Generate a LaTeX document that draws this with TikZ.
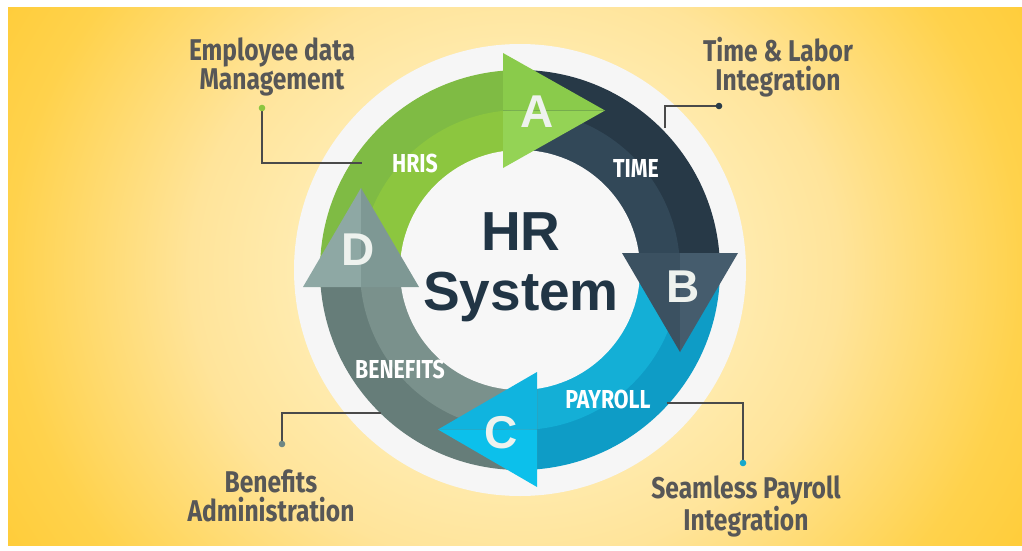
\documentclass[tikz,border=0pt]{standalone}
\usepackage{fontspec}
\setmainfont{Liberation Sans}
\newfontfamily\lblfont[FakeStretch=0.82]{Fira Sans}
\definecolor{bgA}{HTML}{FFF3CC}
\definecolor{bgB}{HTML}{FFEFBA}
\definecolor{bgC}{HTML}{FFE49A}
\definecolor{bgD}{HTML}{FFD24C}
\definecolor{bgE}{HTML}{FFC92E}
\definecolor{diskc}{HTML}{F6F6F6}
\definecolor{innerc}{HTML}{F7F7F7}
\definecolor{grnout}{HTML}{7FBB44}
\definecolor{grnin}{HTML}{8CC63F}
\definecolor{drkout}{HTML}{273947}
\definecolor{drkin}{HTML}{324858}
\definecolor{bluout}{HTML}{0E9CC6}
\definecolor{bluin}{HTML}{14AFD6}
\definecolor{gryout}{HTML}{667D79}
\definecolor{gryin}{HTML}{7A918C}
\definecolor{triAu}{HTML}{8ACB4B}
\definecolor{triAl}{HTML}{94D355}
\definecolor{triBl}{HTML}{3B5161}
\definecolor{triBr}{HTML}{455C6D}
\definecolor{triCu}{HTML}{10B4DF}
\definecolor{triCl}{HTML}{0CC0EB}
\definecolor{triDl}{HTML}{8EA8A4}
\definecolor{triDr}{HTML}{7E9894}
\definecolor{hrtext}{HTML}{213545}
\definecolor{lbltext}{HTML}{575757}
\definecolor{connc}{HTML}{4A4A4A}
\definecolor{dotg}{HTML}{8CC63F}
\definecolor{dotd}{HTML}{2A3C49}
\definecolor{dotgr}{HTML}{6E8784}
\definecolor{dotb}{HTML}{16A8CC}
\definecolor{letc}{HTML}{EEF2EE}
\pgfdeclareradialshading{bgshade}{\pgfpoint{0bp}{0bp}}{color(0bp)=(bgA); color(8bp)=(bgB); color(16bp)=(bgC); color(25bp)=(bgD); color(32bp)=(bgE); color(50bp)=(bgE)}
\begin{document}
\begin{tikzpicture}[x=1pt,y=-1pt,
  letter/.style={anchor=base, text=letc, font=\bfseries\fontsize{46}{46}\selectfont, inner sep=0pt},
  bandlbl/.style={anchor=base, text=white, font=\lblfont\bfseries\fontsize{26}{26}\selectfont, inner sep=0pt},
  outlbl/.style={anchor=base, align=center, text=lbltext, font=\lblfont\bfseries\fontsize{30}{29}\selectfont, inner sep=0pt},
  hrlbl/.style={anchor=base, text=hrtext, font=\bfseries\fontsize{55}{55}\selectfont, inner sep=0pt},
  conn/.style={draw=connc, line width=1.6pt}]
\useasboundingbox (0,0) rectangle (1022,551);
\fill[white] (0,0) rectangle (1022,551);
\begin{scope}
  \clip (8,8) rectangle (1022,545);
  \shade[shading=bgshade] (8,-190) rectangle (1022,730);
\end{scope}
\coordinate (O) at (520,270);
\fill[diskc] (O) circle[radius=226pt];
% bands
\begin{scope}
  \clip (0,0) rectangle (503,287);
  \fill[grnout] (O) circle[radius=200pt];
  \fill[grnin] (O) circle[radius=160pt];
\end{scope}
\begin{scope}
  \clip (503,0) rectangle (1022,253);
  \fill[drkout] (O) circle[radius=200pt];
  \fill[drkin] (O) circle[radius=160pt];
\end{scope}
\begin{scope}
  \clip (537,253) rectangle (1022,551);
  \fill[bluout] (O) circle[radius=200pt];
  \fill[bluin] (O) circle[radius=160pt];
\end{scope}
\begin{scope}
  \clip (0,287) rectangle (537,551);
  \fill[gryout] (O) circle[radius=200pt];
  \fill[gryin] (O) circle[radius=160pt];
\end{scope}
\fill[innerc] (O) circle[radius=120pt];
% triangles
\fill[triAu] (503,53) -- (605,110.5) -- (503,110.5) -- cycle;
\fill[triAl] (503,110.5) -- (605,110.5) -- (503,168) -- cycle;
\fill[triBl] (622,253) -- (680,253) -- (680,352) -- cycle;
\fill[triBr] (680,253) -- (738,253) -- (680,352) -- cycle;
\fill[triCu] (537,372) -- (537,429.5) -- (438,429.5) -- cycle;
\fill[triCl] (537,429.5) -- (537,487) -- (438,429.5) -- cycle;
\fill[triDl] (303,287) -- (361,287) -- (361,188) -- cycle;
\fill[triDr] (361,287) -- (419,287) -- (361,188) -- cycle;
% letters
\node[letter] (la) at (537,127) {A};
\node[letter] (lb) at (683,302) {B};
\node[letter] (lc) at (501,448) {C};
\node[letter] (ld) at (358,265) {D};
% band labels
\node[bandlbl] (hris) at (415,172) {HRIS};
\node[bandlbl] (time) at (636,177) {TIME};
\node[bandlbl] (payroll) at (608,408) {PAYROLL};
\node[bandlbl] (benefits) at (400,378) {BENEFITS};
% centre
\node[hrlbl] (hr) at (521,250) {HR};
\node[hrlbl] (sys) at (521,310) {System};
% outer labels (base = baseline of last line)
\node[outlbl] (emp) at (272,89) {Employee data\\Management};
\node[outlbl] (tim) at (778,90) {Time \& Labor\\Integration};
\node[outlbl] (ben) at (271,521) {Benefits\\Administration};
\node[outlbl] (pay) at (746,530) {Seamless Payroll\\Integration};
% connectors
\coordinate (d1) at (262,108); \coordinate (e1) at (362,163);
\coordinate (d2) at (719,106); \coordinate (e2) at (665,128);
\coordinate (d3) at (282,444); \coordinate (e3) at (381,413);
\coordinate (d4) at (743,463); \coordinate (e4) at (667,403);
\draw[conn] (d1) |- (e1);
\draw[conn] (d2) -| (e2);
\draw[conn] (d3) |- (e3);
\draw[conn] (e4) -| (d4);
\fill[dotg] (d1) circle[radius=3.3pt];
\fill[dotd] (d2) circle[radius=3.3pt];
\fill[dotgr] (d3) circle[radius=3.3pt];
\fill[dotb] (d4) circle[radius=3.3pt];
\end{tikzpicture}
\end{document}
